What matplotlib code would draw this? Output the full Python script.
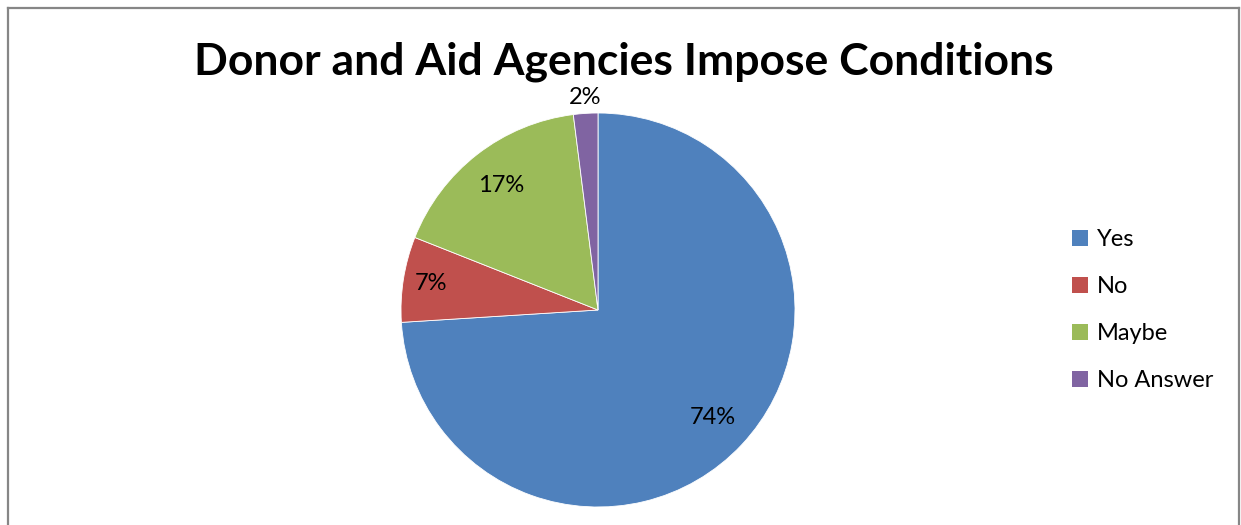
import numpy as np
import matplotlib
matplotlib.use("Agg")
import matplotlib.pyplot as plt
from matplotlib.lines import Line2D
from matplotlib.patches import Patch

categories = ["Yes", "No", "Maybe", "No Answer"]
values = [74, 7, 17, 2]
colors = ["#4F81BD", "#C0504D", "#9BBB59", "#8064A2"]
label_radius = [0.80, 0.86, 0.80, 1.08]
title = "Donor and Aid Agencies Impose Conditions"

W, H, DPI = 1241, 525, 100
plt.rcParams['font.family'] = ['Lato', 'DejaVu Sans']
fig = plt.figure(figsize=(W / DPI, H / DPI), dpi=DPI)

# pie axes (pixel geometry)
cx, cy, r = 598, 310, 197
ax = fig.add_axes([(cx - r) / W, (H - cy - r) / H, 2 * r / W, 2 * r / H])
wedges, _ = ax.pie(values, colors=colors, startangle=90, counterclock=False,
                   radius=1, wedgeprops=dict(edgecolor="white", linewidth=0.6))
ax.set_xlim(-1, 1)
ax.set_ylim(-1, 1)
ax.set_aspect("equal")
ax.axis("off")

total = sum(values)
for w, v, lr in zip(wedges, values, label_radius):
    ang = np.deg2rad((w.theta1 + w.theta2) / 2)
    ax.text(lr * np.cos(ang), lr * np.sin(ang), f"{round(100 * v / total)}%",
            ha="center", va="center", fontsize=17, color="black", clip_on=False)

# title
fig.text(624 / W, 1 - 62 / H, title, ha="center", va="center",
         fontsize=32, fontweight="bold", color="black")

# legend
handles = [Patch(facecolor=c, edgecolor="none") for c in colors]
fig.legend(handles, categories, loc="center left",
           bbox_to_anchor=(1051 / W, 1 - 310 / H), frameon=False,
           fontsize=17, handlelength=0.65, handleheight=0.65, handletextpad=0.4,
           labelspacing=1.1)

# border
for xs, ys in [([8, 8], [H, 8]), ([8, 1239], [8, 8]), ([1239, 1239], [8, H])]:
    fig.add_artist(Line2D([x / W for x in xs], [1 - y / H for y in ys],
                          transform=fig.transFigure, color="#868686", linewidth=1.6))

fig.savefig("out.png", dpi=DPI)
